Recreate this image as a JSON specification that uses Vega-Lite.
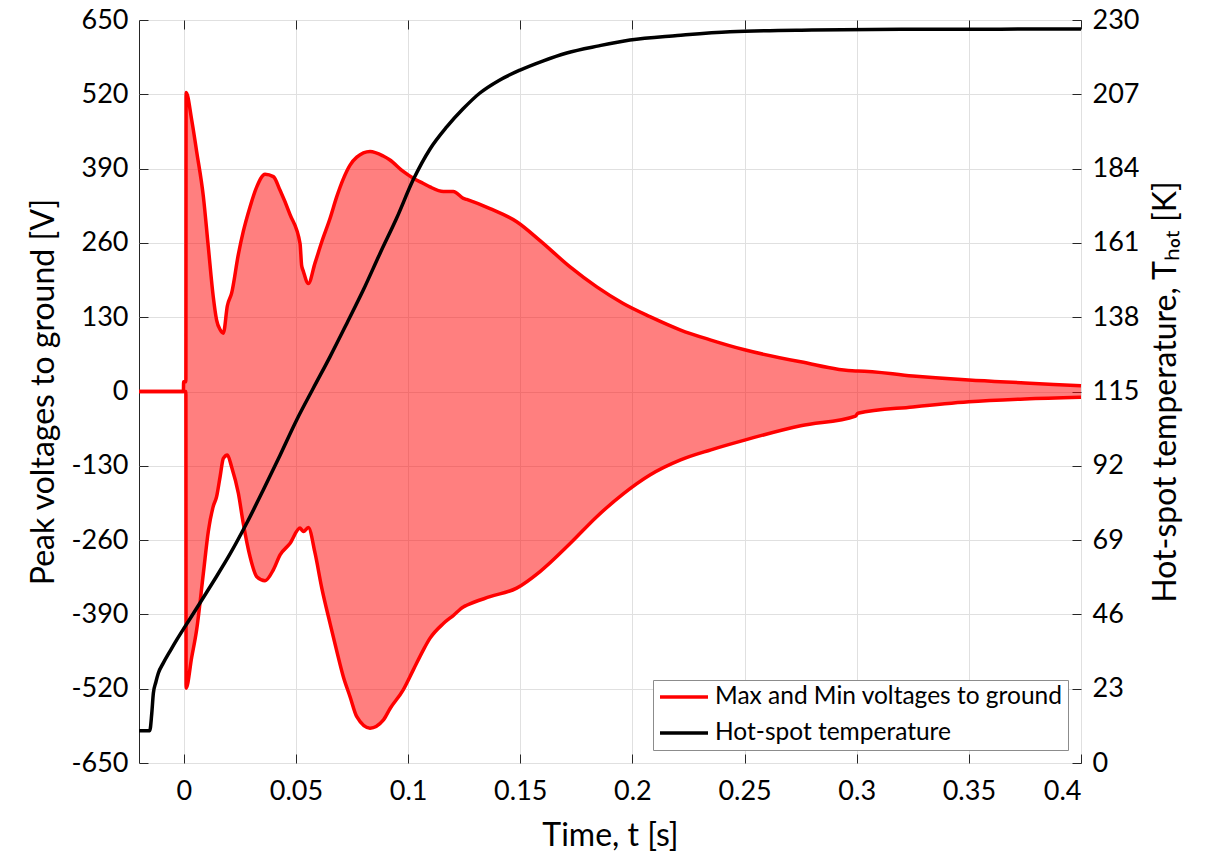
{
  "$schema": "https://vega.github.io/schema/vega-lite/v6.json",
  "width": 942,
  "height": 743,
  "autosize": "none",
  "padding": {"left": 139, "top": 20, "right": 130, "bottom": 92},
  "background": "white",
  "config": {
    "font": "Lato",
    "view": {"stroke": "#262626", "strokeWidth": 1},
    "axis": {
      "labelFont": "Lato",
      "titleFont": "Lato",
      "labelFontSize": 27,
      "titleFontSize": 32,
      "titleFontWeight": "normal",
      "labelColor": "#000000",
      "titleColor": "#000000",
      "tickColor": "#262626",
      "tickSize": -9,
      "tickWidth": 1,
      "domain": false,
      "gridColor": "#e0e0e0",
      "gridWidth": 1,
      "labelPadding": 20
    },
    "legend": {
      "labelFont": "Lato",
      "labelFontSize": 24.5,
      "labelColor": "#000000"
    }
  },
  "datasets": {
    "band": [
      {"t": -0.02, "vmax": 0, "vmin": 0},
      {"t": -0.0002, "vmax": 0, "vmin": 0},
      {"t": -0.0001, "vmax": 17, "vmin": 0},
      {"t": 0.0009, "vmax": 17, "vmin": 0},
      {"t": 0.001, "vmax": 523, "vmin": -519},
      {"t": 0.0035, "vmax": 475, "vmin": -465},
      {"t": 0.0057, "vmax": 420, "vmin": -417},
      {"t": 0.0087, "vmax": 341, "vmin": -318},
      {"t": 0.0109, "vmax": 253, "vmin": -245},
      {"t": 0.0131, "vmax": 166, "vmin": -201},
      {"t": 0.0146, "vmax": 125, "vmin": -184},
      {"t": 0.0162, "vmax": 108, "vmin": -148},
      {"t": 0.0176, "vmax": 102, "vmin": -117},
      {"t": 0.0194, "vmax": 150, "vmin": -111},
      {"t": 0.0213, "vmax": 172, "vmin": -132},
      {"t": 0.0243, "vmax": 240, "vmin": -178},
      {"t": 0.0265, "vmax": 280, "vmin": -231},
      {"t": 0.0295, "vmax": 323, "vmin": -289},
      {"t": 0.0325, "vmax": 358, "vmin": -324},
      {"t": 0.0362, "vmax": 380, "vmin": -331},
      {"t": 0.0399, "vmax": 376, "vmin": -312},
      {"t": 0.0429, "vmax": 352, "vmin": -286},
      {"t": 0.0473, "vmax": 310, "vmin": -266},
      {"t": 0.0518, "vmax": 259, "vmin": -239},
      {"t": 0.0525, "vmax": 221, "vmin": -242},
      {"t": 0.0533, "vmax": 210, "vmin": -245},
      {"t": 0.0555, "vmax": 189, "vmin": -238},
      {"t": 0.0585, "vmax": 225, "vmin": -283},
      {"t": 0.0615, "vmax": 262, "vmin": -344},
      {"t": 0.0652, "vmax": 303, "vmin": -406},
      {"t": 0.0681, "vmax": 340, "vmin": -453},
      {"t": 0.0711, "vmax": 372, "vmin": -499},
      {"t": 0.0741, "vmax": 396, "vmin": -534},
      {"t": 0.0771, "vmax": 410, "vmin": -569},
      {"t": 0.083, "vmax": 420, "vmin": -589},
      {"t": 0.0889, "vmax": 412, "vmin": -575},
      {"t": 0.0919, "vmax": 405, "vmin": -555},
      {"t": 0.0978, "vmax": 385, "vmin": -522},
      {"t": 0.1023, "vmax": 373, "vmin": -487},
      {"t": 0.1068, "vmax": 364, "vmin": -452},
      {"t": 0.1097, "vmax": 358, "vmin": -432},
      {"t": 0.1157, "vmax": 350, "vmin": -406},
      {"t": 0.1201, "vmax": 350, "vmin": -392},
      {"t": 0.1246, "vmax": 338, "vmin": -377},
      {"t": 0.1261, "vmax": 336, "vmin": -374},
      {"t": 0.1365, "vmax": 320, "vmin": -359},
      {"t": 0.1484, "vmax": 297, "vmin": -344},
      {"t": 0.1588, "vmax": 264, "vmin": -315},
      {"t": 0.1722, "vmax": 218, "vmin": -266},
      {"t": 0.1841, "vmax": 183, "vmin": -219},
      {"t": 0.1959, "vmax": 154, "vmin": -179},
      {"t": 0.2078, "vmax": 131, "vmin": -146},
      {"t": 0.2212, "vmax": 108, "vmin": -120},
      {"t": 0.235, "vmax": 90, "vmin": -102},
      {"t": 0.25, "vmax": 73, "vmin": -85},
      {"t": 0.275, "vmax": 52, "vmin": -60},
      {"t": 0.2995, "vmax": 36, "vmin": -43},
      {"t": 0.3005, "vmax": 36, "vmin": -38},
      {"t": 0.325, "vmax": 27, "vmin": -27},
      {"t": 0.35, "vmax": 20, "vmin": -18},
      {"t": 0.375, "vmax": 15, "vmin": -13},
      {"t": 0.4, "vmax": 10, "vmin": -10}
    ],
    "temp": [
      {"t": -0.02, "T": 10},
      {"t": -0.0152, "T": 10},
      {"t": -0.0143, "T": 15.4},
      {"t": -0.0136, "T": 21.6},
      {"t": -0.0125, "T": 25},
      {"t": -0.0114, "T": 27.8},
      {"t": -0.0092, "T": 30.9},
      {"t": -0.006, "T": 34.8},
      {"t": -0.0032, "T": 38.1},
      {"t": 0.0005, "T": 42.2},
      {"t": 0.0057, "T": 47.9},
      {"t": 0.0131, "T": 56.1},
      {"t": 0.0206, "T": 64.7},
      {"t": 0.028, "T": 74.2},
      {"t": 0.0354, "T": 84.5},
      {"t": 0.0429, "T": 95.3},
      {"t": 0.0503, "T": 106.2},
      {"t": 0.0577, "T": 116},
      {"t": 0.0652, "T": 125.8},
      {"t": 0.0726, "T": 136},
      {"t": 0.08, "T": 146.4},
      {"t": 0.0875, "T": 157.8},
      {"t": 0.0949, "T": 168.7},
      {"t": 0.1023, "T": 180.6},
      {"t": 0.1097, "T": 190},
      {"t": 0.1172, "T": 196.9},
      {"t": 0.1245, "T": 202.5},
      {"t": 0.132, "T": 207.4},
      {"t": 0.1405, "T": 211.3},
      {"t": 0.1499, "T": 214.5},
      {"t": 0.16, "T": 217.3},
      {"t": 0.1707, "T": 219.8},
      {"t": 0.185, "T": 222},
      {"t": 0.1989, "T": 223.8},
      {"t": 0.22, "T": 225.2},
      {"t": 0.2435, "T": 226.4},
      {"t": 0.28, "T": 226.9},
      {"t": 0.32, "T": 227.1},
      {"t": 0.4, "T": 227.2}
    ]
  },
  "layer": [
    {
      "data": {"name": "band"},
      "layer": [
        {
          "mark": {"type": "area", "color": "#ff0000", "opacity": 0.5, "interpolate": "monotone"},
          "encoding": {
            "x": {
              "field": "t",
              "type": "quantitative",
              "scale": {"domain": [-0.02, 0.4], "nice": false, "zero": false},
              "axis": {
                "orient": "bottom",
                "values": [0, 0.05, 0.1, 0.15, 0.2, 0.25, 0.3, 0.35, 0.4],
                "labelExpr": "'' + datum.value",
                "title": "Time, t [s]",
                "labelPadding": 24,
                "titlePadding": 16,
                "grid": true
              }
            },
            "y": {
              "field": "vmax",
              "type": "quantitative",
              "scale": {"domain": [-650, 650], "nice": false},
              "axis": {
                "values": [-650, -520, -390, -260, -130, 0, 130, 260, 390, 520, 650],
                "labelExpr": "'' + datum.value",
                "title": "Peak voltages to ground [V]",
                "titlePadding": 10,
                "grid": true
              }
            },
            "y2": {"field": "vmin"}
          }
        },
        {
          "mark": {"type": "line", "strokeWidth": 3.5, "strokeJoin": "round", "interpolate": "monotone"},
          "encoding": {
            "x": {"field": "t", "type": "quantitative"},
            "y": {"field": "vmax", "type": "quantitative"},
            "stroke": {
              "datum": "Max and Min voltages to ground",
              "type": "nominal",
              "scale": {
                "domain": ["Max and Min voltages to ground", "Hot-spot temperature"],
                "range": ["#ff0000", "#000000"]
              },
              "legend": {
                "title": null,
                "orient": "bottom-right",
                "offset": 13,
                "fillColor": "white",
                "strokeColor": "#8c8c8c",
                "padding": 5,
                "symbolType": "stroke",
                "symbolSize": 2304,
                "symbolStrokeWidth": 3.5,
                "clipHeight": 24,
                "rowPadding": 11,
                "labelOffset": 5,
                "labelLimit": 500
              }
            }
          }
        },
        {
          "mark": {"type": "line", "strokeWidth": 3.5, "strokeJoin": "round", "interpolate": "monotone"},
          "encoding": {
            "x": {"field": "t", "type": "quantitative"},
            "y": {"field": "vmin", "type": "quantitative"},
            "stroke": {"datum": "Max and Min voltages to ground", "type": "nominal"}
          }
        }
      ]
    },
    {
      "data": {"name": "temp"},
      "mark": {"type": "line", "strokeWidth": 3.5, "strokeJoin": "round", "interpolate": "monotone"},
      "encoding": {
        "x": {
          "field": "t",
          "type": "quantitative",
          "axis": {
            "orient": "top",
            "values": [0, 0.05, 0.1, 0.15, 0.2, 0.25, 0.3, 0.35, 0.4],
            "labels": false,
            "title": null,
            "grid": false
          }
        },
        "y": {
          "field": "T",
          "type": "quantitative",
          "scale": {"domain": [0, 230], "nice": false},
          "axis": {
            "orient": "right",
            "values": [0, 23, 46, 69, 92, 115, 138, 161, 184, 207, 230],
            "title": "Hot-spot temperature, Tₕₒₜ [K]",
            "titleAngle": 270,
            "titleBaseline": "top",
            "titlePadding": 12,
            "grid": false
          }
        },
        "stroke": {"datum": "Hot-spot temperature", "type": "nominal"}
      }
    }
  ],
  "resolve": {"scale": {"y": "independent"}, "axis": {"x": "independent", "y": "independent"}}
}
